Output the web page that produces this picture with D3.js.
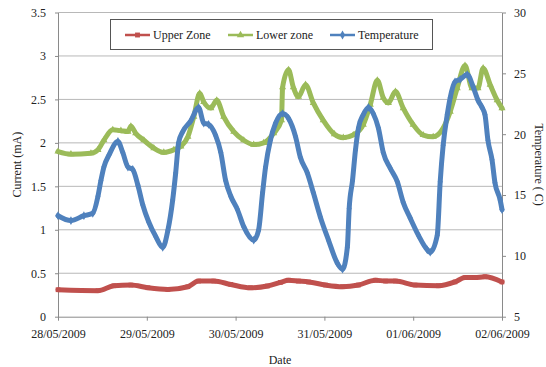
<!DOCTYPE html>
<html>
<head>
<meta charset="utf-8">
<script src="https://cdn.jsdelivr.net/npm/d3@7"></script>
<style>
  html, body { margin: 0; padding: 0; background: #fff; }
  svg { display: block; }
</style>
</head>
<body>
<script>
// hours after 28/05/2009 00:00
const upperHours = [0, 10.8, 15.1, 19.7, 24.3, 29.7, 35.1, 38.0, 42.1, 46.7, 52.0, 56.6, 60.1, 62.3, 65.0, 67.7, 72.3, 76.9, 81.2, 85.8, 88.5, 91.2, 96.5, 102.8, 107.3, 110.0, 112.7, 115.4, 120];
const upperZone  = [0.31, 0.30, 0.356, 0.364, 0.333, 0.314, 0.345, 0.41, 0.41, 0.371, 0.333, 0.353, 0.394, 0.42, 0.41, 0.40, 0.364, 0.345, 0.364, 0.42, 0.41, 0.41, 0.364, 0.356, 0.40, 0.45, 0.45, 0.46, 0.40];

const lowerHours = [0, 3.5, 8.9, 10.8, 12.4, 14.8, 17.0, 18.9, 19.7, 21.0, 23.2, 25.9, 28.6, 31.3, 33.2, 35.1, 36.7, 38.3, 39.4, 41.3, 42.9, 44.8, 47.5, 50.2, 52.9, 55.6, 58.3, 60.4, 60.7, 62.3, 63.6, 65.0, 66.9, 69.0, 71.7, 74.7, 77.1, 79.8, 82.5, 84.4, 86.3, 87.9, 89.3, 91.2, 93.3, 96.0, 98.7, 101.4, 104.1, 106.0, 107.9, 110.0, 111.9, 113.5, 114.9, 116.8, 118.7, 120];
const lowerZone  = [1.90, 1.87, 1.88, 1.92, 2.03, 2.15, 2.14, 2.13, 2.19, 2.11, 2.03, 1.94, 1.89, 1.92, 1.96, 2.07, 2.30, 2.57, 2.47, 2.40, 2.49, 2.30, 2.13, 2.03, 1.98, 2.00, 2.11, 2.26, 2.64, 2.84, 2.64, 2.53, 2.67, 2.46, 2.26, 2.10, 2.06, 2.09, 2.21, 2.44, 2.72, 2.52, 2.46, 2.59, 2.40, 2.21, 2.09, 2.07, 2.17, 2.36, 2.63, 2.89, 2.63, 2.63, 2.86, 2.67, 2.49, 2.40];

const tempHours = [0, 3.5, 7.0, 9.4, 10.8, 11.6, 12.4, 13.8, 16.2, 17.5, 18.9, 20.2, 21.6, 22.9, 24.5, 26.4, 28.3, 29.7, 31.0, 31.8, 32.6, 33.7, 35.9, 38.0, 39.4, 40.7, 42.6, 44.0, 45.3, 46.7, 48.5, 50.2, 52.9, 54.2, 55.3, 56.1, 57.4, 58.8, 60.7, 62.3, 64.2, 65.5, 67.4, 69.0, 70.9, 73.1, 75.5, 76.9, 78.2, 78.7, 79.6, 80.4, 81.2, 82.5, 83.9, 85.2, 86.6, 87.9, 89.8, 91.7, 93.3, 95.2, 97.4, 99.8, 100.6, 102.5, 103.3, 104.1, 105.2, 106.0, 107.3, 108.7, 110.6, 112.2, 113.5, 114.6, 115.4, 116.2, 117.3, 118.1, 119.5, 120];
const temperature = [13.3, 12.9, 13.3, 13.5, 14.9, 16.2, 17.3, 18.3, 19.4, 18.5, 17.3, 17.1, 15.8, 14.2, 12.8, 11.6, 10.7, 12.1, 14.6, 16.8, 19.3, 20.2, 21.1, 22.2, 20.9, 20.8, 19.9, 18.5, 16.2, 14.9, 13.8, 12.4, 11.3, 12.1, 15.2, 17.3, 19.5, 20.9, 21.7, 21.3, 19.8, 18.1, 16.8, 15.2, 13.2, 11.3, 9.4, 8.9, 10.7, 13.9, 16.2, 18.7, 20.5, 21.6, 22.2, 21.7, 20.5, 18.5, 17.2, 16.1, 14.4, 13.1, 11.7, 10.5, 10.3, 11.7, 16.1, 19.1, 21.6, 23.0, 24.3, 24.5, 24.9, 23.9, 22.8, 22.2, 21.6, 19.5, 17.9, 16.0, 14.6, 13.8];

const dateTicks = ["28/05/2009", "29/05/2009", "30/05/2009", "31/05/2009", "01/06/2009", "02/06/2009"];
const currentTicks = [0, 0.5, 1, 1.5, 2, 2.5, 3, 3.5];
const tempTicks = [5, 10, 15, 20, 25, 30];

const width = 546, height = 367;
const plotLeft = 58, plotRight = 502, plotTop = 12.5, plotBottom = 316.7;
const font = "'Liberation Serif', 'Times New Roman', 'DejaVu Serif', serif";
const start = new Date(2009, 4, 28);
const parseDay = d3.timeParse("%d/%m/%Y");

const x = d3.scaleTime().domain([start, parseDay("02/06/2009")]).range([plotLeft, plotRight]);
const y = d3.scaleLinear().domain([0, 3.5]).range([plotBottom, plotTop]);
const yT = d3.scaleLinear().domain([5, 30]).range([plotBottom, plotTop]);

const at = h => d3.timeMinute.offset(start, Math.round(h * 60));

const svg = d3.select("body").append("svg")
  .attr("width", width)
  .attr("height", height)
  .attr("font-family", font);

// gridlines
svg.append("g")
  .selectAll("line")
  .data(currentTicks.slice(1))
  .join("line")
  .attr("x1", plotLeft).attr("x2", plotRight)
  .attr("y1", d => y(d)).attr("y2", d => y(d))
  .attr("stroke", "#b8b8b8")
  .attr("stroke-width", 1);

// axes
const axisStyle = g => {
  g.attr("font-family", font).attr("font-size", 12);
  g.select(".domain").attr("stroke", "#8a8a8a");
  g.selectAll(".tick line").attr("stroke", "#8a8a8a");
  g.selectAll(".tick text").attr("fill", "#222");
};

svg.append("g")
  .attr("transform", `translate(${plotLeft},0)`)
  .call(d3.axisLeft(y).tickValues(currentTicks).tickFormat(d3.format("")).tickSize(3).tickSizeOuter(0).tickPadding(9))
  .call(axisStyle);

svg.append("g")
  .attr("transform", `translate(${plotRight},0)`)
  .call(d3.axisRight(yT).tickValues(tempTicks).tickSize(4).tickSizeOuter(0).tickPadding(8))
  .call(axisStyle);

svg.append("g")
  .attr("transform", `translate(0,${plotBottom})`)
  .call(d3.axisBottom(x).tickValues(dateTicks.map(parseDay)).tickFormat(d3.timeFormat("%d/%m/%Y")).tickSize(4).tickSizeOuter(0).tickPadding(9))
  .call(axisStyle);

// axis titles
svg.append("text")
  .attr("transform", `translate(17,${(plotTop + plotBottom) / 2}) rotate(-90)`)
  .attr("text-anchor", "middle")
  .attr("dominant-baseline", "central")
  .attr("font-size", 12)
  .attr("fill", "#222")
  .text("Current (mA)");

svg.append("text")
  .attr("transform", `translate(539,${(plotTop + plotBottom) / 2}) rotate(90)`)
  .attr("text-anchor", "middle")
  .attr("dominant-baseline", "central")
  .attr("font-size", 12)
  .attr("fill", "#222")
  .text("Temperature ( C)");

svg.append("text")
  .attr("x", (plotLeft + plotRight) / 2)
  .attr("y", 360)
  .attr("text-anchor", "middle")
  .attr("dominant-baseline", "central")
  .attr("font-size", 12)
  .attr("fill", "#222")
  .text("Date");

// series
const series = [
  { name: "Upper Zone", color: "#C0504D", shape: d3.symbolSquare, yScale: y,
    data: upperHours.map((h, i) => [at(h), upperZone[i]]) },
  { name: "Lower zone", color: "#9BBB59", shape: d3.symbolTriangle, yScale: y,
    data: lowerHours.map((h, i) => [at(h), lowerZone[i]]) },
  { name: "Temperature", color: "#4F81BD", shape: d3.symbolDiamond, yScale: yT,
    data: tempHours.map((h, i) => [at(h), temperature[i]]) }
];

series.forEach(s => {
  const line = d3.line()
    .x(d => x(d[0]))
    .y(d => s.yScale(d[1]))
    .curve(d3.curveMonotoneX);

  svg.append("path")
    .datum(s.data)
    .attr("fill", "none")
    .attr("stroke", s.color)
    .attr("stroke-width", 5)
    .attr("stroke-linejoin", "round")
    .attr("stroke-linecap", "round")
    .attr("d", line);

  svg.append("g")
    .attr("fill", s.color)
    .selectAll("path")
    .data(s.data)
    .join("path")
    .attr("transform", d => `translate(${x(d[0])},${s.yScale(d[1])})`)
    .attr("d", d3.symbol(s.shape, 22));
});

// legend
const legend = svg.append("g");
legend.append("rect")
  .attr("x", 110.5).attr("y", 19.5)
  .attr("width", 322).attr("height", 30)
  .attr("fill", "#fff")
  .attr("stroke", "#555")
  .attr("stroke-width", 1);

const legendX = [125, 228, 330];
series.forEach((s, i) => {
  const g = legend.append("g").attr("transform", `translate(${legendX[i]},35)`);
  g.append("line")
    .attr("x1", 0).attr("x2", 25)
    .attr("stroke", s.color)
    .attr("stroke-width", 2.5);
  g.append("path")
    .attr("transform", "translate(12.5,0)")
    .attr("fill", s.color)
    .attr("d", d3.symbol(s.shape, 24));
  g.append("text")
    .attr("x", 28)
    .attr("dominant-baseline", "central")
    .attr("font-size", 12)
    .attr("fill", "#222")
    .text(s.name);
});
</script>
</body>
</html>
